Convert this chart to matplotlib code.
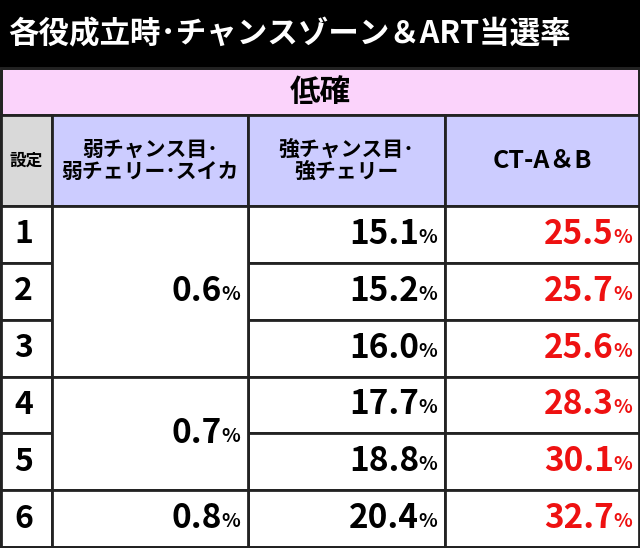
import matplotlib
matplotlib.use("Agg")
import matplotlib.pyplot as plt
from matplotlib.patches import Rectangle

plt.rcParams['font.family'] = ['Noto Sans CJK JP', 'DejaVu Sans']

title = "各役成立時･チャンスゾーン＆ART当選率"
mode = "低確"
headers = ["設定", "弱チャンス目･\n弱チェリー･スイカ", "強チャンス目･\n強チェリー", "CT-A＆B"]
settings = ["1", "2", "3", "4", "5", "6"]
weak = [("0.6", 0, 3), ("0.7", 3, 5), ("0.8", 5, 6)]
strong = ["15.1", "15.2", "16.0", "17.7", "18.8", "20.4"]
ct = ["25.5", "25.7", "25.6", "28.3", "30.1", "32.7"]

W, H = 640, 548
fig = plt.figure(figsize=(W/100, H/100), dpi=100)
ax = fig.add_axes([0, 0, 1, 1])
ax.set_xlim(0, W); ax.set_ylim(H, 0); ax.axis('off')

def rect(x0, y0, x1, y1, fc, lw=2):
    ax.add_patch(Rectangle((x0, y0), x1-x0, y1-y0, facecolor=fc, edgecolor='#222222', lw=lw))

xs = [0, 52, 248, 445, 640]
rect(0, 0, W, 68, 'black', 0)
ax.text(8, 34, title, color='white', fontsize=22, fontweight='bold', va='center', ha='left')
rect(1, 68, W-1, 115, '#fbd3fb')
ax.text(W/2, 92, mode, fontsize=22, fontweight='bold', ha='center', va='center')
hy0, hy1 = 115, 206
for i in range(4):
    rect(xs[i], hy0, xs[i+1], hy1, '#d9d9d9' if i == 0 else '#ccccff')
    fs = 12 if i == 0 else (15 if i < 3 else 18)
    ax.text((xs[i]+xs[i+1])/2, (hy0+hy1)/2, headers[i], fontsize=fs, fontweight='bold',
            ha='center', va='center', linespacing=1.05)
rh = (H-1-hy1)/6
ys = [hy1 + k*rh for k in range(7)]
for k in range(6):
    rect(xs[0], ys[k], xs[1], ys[k+1], 'white')
    ax.text(14, (ys[k]+ys[k+1])/2, settings[k], fontsize=23, fontweight='bold', va='center')
    for col, vals, color in [(2, strong, 'black'), (3, ct, '#ee1111')]:
        rect(xs[col], ys[k], xs[col+1], ys[k+1], 'white')
        yc = (ys[k]+ys[k+1])/2
        ax.text(xs[col+1]-8, yc+3, '%', fontsize=14, fontweight='bold', color=color, ha='right', va='center')
        ax.text(xs[col+1]-26, yc, vals[k], fontsize=24, fontweight='bold', color=color, ha='right', va='center')
for v, a, b in weak:
    rect(xs[1], ys[a], xs[2], ys[b], 'white')
    yc = (ys[a]+ys[b])/2
    ax.text(xs[2]-8, yc+3, '%', fontsize=14, fontweight='bold', ha='right', va='center')
    ax.text(xs[2]-26, yc, v, fontsize=24, fontweight='bold', ha='right', va='center')
ax.add_patch(Rectangle((1, 68), W-2, H-69, fill=False, edgecolor='#222222', lw=2))
fig.savefig('out.png', dpi=100)
